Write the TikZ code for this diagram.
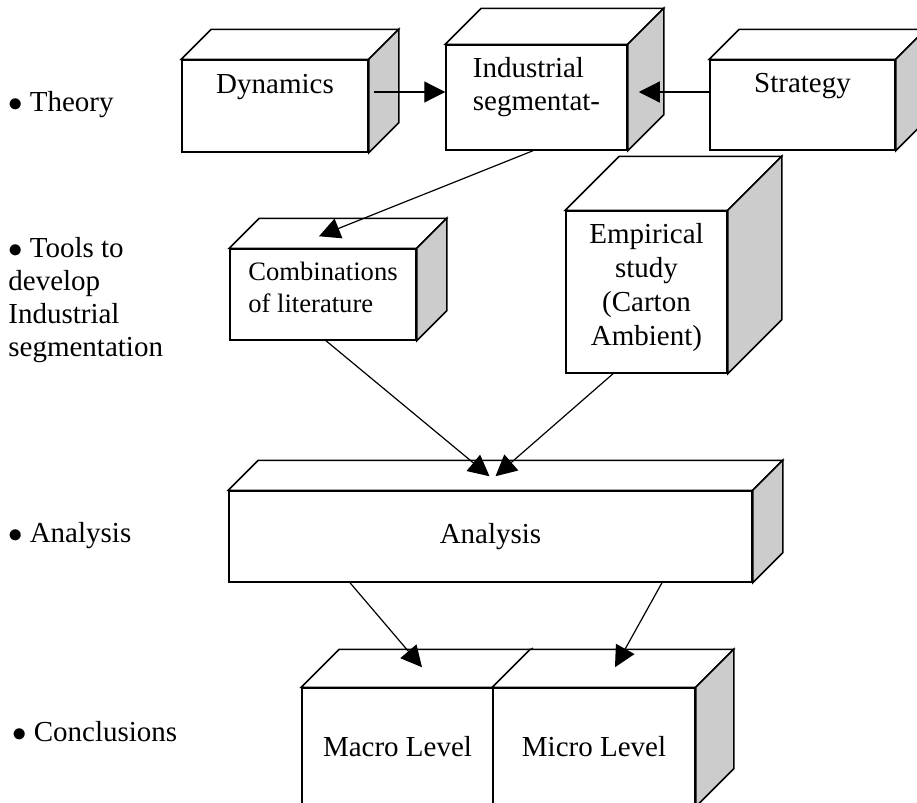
\documentclass[tikz,border=0pt]{standalone}
\usepackage{fontspec}
\setmainfont{Liberation Serif}
\usetikzlibrary{arrows.meta,calc}
\definecolor{blkSide}{HTML}{CCCCCC}
\tikzset{
  % Front face of a block: carries the text.
  blk/box/.style={
    draw=black, fill=white, line width=0.75pt, inner sep=0pt,
    align=center, font=\fontsize{14.5}{16.5}\selectfont
  },
  % Top face (white) and right face (grey) of a block.
  blk/top/.style={draw=black, fill=white, line width=0.75pt},
  blk/side/.style={draw=black, fill=blkSide, line width=0.75pt},
  % Connectors.
  blk/arrow/.style={
    -{Triangle[length=10.5pt,width=10.5pt]}, line width=0.6pt, draw=black
  },
  % Stage labels down the left margin.
  blk/stage/.style={
    anchor=base west, align=left, inner sep=0pt,
    font=\fontsize{14.5}{16.5}\selectfont
  },
}
% top and right faces behind a front node: #1 node, #2 depth
\newcommand{\blkfaces}[2]{%
  \draw[blk/top] (#1.north west) -- ++(#2,-#2) -- ($(#1.north east)+(#2,-#2)$)
    -- (#1.north east) -- cycle;
  \draw[blk/side] (#1.north east) -- ++(#2,-#2) -- ($(#1.south east)+(#2,-#2)$)
    -- (#1.south east) -- cycle;}
\newcommand{\stagebul}{$\bullet$\hspace{3.5pt}}

\begin{document}
\begin{tikzpicture}[x=0.5pt,y=-0.5pt]
  \useasboundingbox (0,0) rectangle (917,803);
  \clip (0,0) rectangle (917,803);

  % stages
  \node[blk/stage] (sTheory) at (8,112) {\stagebul Theory};
  \node[blk/stage] (sTools)  at (8,356)
       {\stagebul Tools to\\develop\\Industrial\\segmentation};
  \node[blk/stage] (sAna)    at (8,542) {\stagebul Analysis};
  \node[blk/stage] (sConc)   at (12,741) {\stagebul Conclusions};

  % theory row
  \node[blk/box, minimum width=93pt, minimum height=46pt,
        text height=16.5pt, text depth=29.5pt] (dyn) at (275,106) {Dynamics};
  \blkfaces{dyn}{30}
  \node[blk/box, align=left, minimum width=90.5pt, minimum height=52.5pt,
        text height=32.5pt, text depth=20pt] (ind) at (536.5,97.5) {Industrial\\segmentat-};
  \blkfaces{ind}{36}
  \node[blk/box, minimum width=92.5pt, minimum height=45pt,
        text height=16pt, text depth=29pt] (str) at (802.5,105) {Strategy};
  \blkfaces{str}{30}

  % tools row
  \node[blk/box, align=left, font=\fontsize{13.3}{16}\selectfont,
        minimum width=93pt, minimum height=45.5pt,
        text height=31.5pt, text depth=14pt] (comb) at (323,294.5)
       {Combinations\\of literature};
  \blkfaces{comb}{30}
  \node[blk/box, font=\fontsize{14.5}{17}\selectfont,
        minimum width=80.5pt, minimum height=81pt,
        text height=67pt, text depth=14pt] (emp) at (646.5,292)
       {Empirical\\study\\(Carton\\Ambient)};
  \blkfaces{emp}{54}

  % analysis
  \node[blk/box, minimum width=261.5pt, minimum height=45.5pt] (ana) at (490.5,536.5) {Analysis};
  \blkfaces{ana}{30}

  % conclusions
  \node[blk/box, minimum width=95.5pt, minimum height=59pt] (mac) at (397.5,747) {Macro Level};
  \blkfaces{mac}{38}
  \node[blk/box, minimum width=101pt, minimum height=59pt] (mic) at (594,747) {Micro Level};
  \blkfaces{mic}{38}

  % connectors
  \draw[blk/arrow] ($(dyn.east)+(5,-14)$) -- ($(ind.west)+(0,-5.5)$);
  \draw[blk/arrow] ($(str.west)+(0,-13)$) -- ($(ind.east)+(11,-5.5)$);
  \draw[blk/arrow] ($(ind.south)+(-3.5,0)$) -- ($(comb.north)+(-4,-12)$);
  \draw[blk/arrow] ($(comb.south)+(3,0)$) -- ($(ana.north)+(-1,-14)$);
  \draw[blk/arrow] ($(emp.south)+(-33.5,0)$) -- ($(ana.north)+(5,-14)$);
  \draw[blk/arrow] ($(ana.south)+(-140.5,0)$) -- ($(mac.north)+(24.5,-20)$);
  \draw[blk/arrow] ($(ana.south)+(171.5,0)$) -- ($(mic.north)+(21,-20)$);
\end{tikzpicture}
\end{document}
